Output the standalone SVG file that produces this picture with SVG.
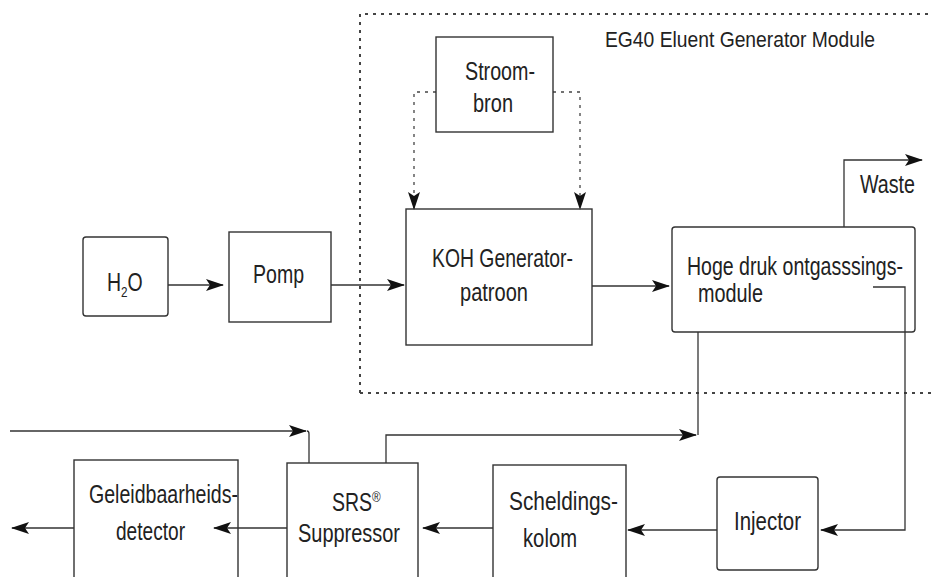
<svg xmlns="http://www.w3.org/2000/svg" width="932" height="577" viewBox="0 0 932 577">
<style>
.bx{fill:none;stroke:#333;stroke-width:1.4}
.t{font-family:"Liberation Sans Narrow","Liberation Sans",Arial,sans-serif;font-size:25px;fill:#222}
.c{fill:none;stroke:#333;stroke-width:1.3}
.d{fill:none;stroke:#444;stroke-width:1.3;stroke-dasharray:3 5}
.m{fill:none;stroke:#444;stroke-width:2;stroke-dasharray:3 5}
</style>
<defs>
<marker id="ah" markerUnits="userSpaceOnUse" markerWidth="18" markerHeight="12" refX="17" refY="6" orient="auto">
<path d="M0,0 L18,6 L0,12 L4,6 Z" fill="#111"/>
</marker>
</defs>
<rect width="932" height="577" fill="#fff"/>
<g id="module">
<path class="m" d="M360,393 V14 H932"/>
<path class="m" d="M360,393 H932"/>
<text class="t" x="605" y="47" style="font-size:22px" textLength="270" lengthAdjust="spacingAndGlyphs">EG40 Eluent Generator Module</text>
</g>
<g id="connectors">
<path class="c" d="M168,285 H223" marker-end="url(#ah)"/>
<path class="c" d="M331,285 H404" marker-end="url(#ah)"/>
<path class="d" d="M436,92 H414 V209" marker-end="url(#ah)"/>
<path class="d" d="M553,92 H580 V209" marker-end="url(#ah)"/>
<path class="c" d="M592,286 H669" marker-end="url(#ah)"/>
<path class="c" d="M844,227 V160 H922" marker-end="url(#ah)"/>
<path class="c" d="M873,287 H905 V530 H821" marker-end="url(#ah)"/>
<path class="c" d="M717,530 H628" marker-end="url(#ah)"/>
<path class="c" d="M493,528 H423" marker-end="url(#ah)"/>
<path class="c" d="M287,528 H214" marker-end="url(#ah)"/>
<path class="c" d="M74,528 H12" marker-end="url(#ah)"/>
<path class="c" d="M10,431 H306" marker-end="url(#ah)"/>
<path class="c" d="M307,431 Q309,431 309,434 V463"/>
<path class="c" d="M386,463 V435 H696" marker-end="url(#ah)"/>
<path class="c" d="M698,435 V332"/>
</g>
<g id="h2o">
<rect class="bx" x="83" y="237" width="85" height="79" rx="3"/>
<text class="t" transform="translate(107,291) scale(0.78,1)">H<tspan dy="6" style="font-size:15px">2</tspan><tspan dy="-6">O</tspan></text>
</g>
<g id="pomp">
<rect class="bx" x="229" y="232" width="102" height="90"/>
<text class="t" x="253" y="283" textLength="51" lengthAdjust="spacingAndGlyphs">Pomp</text>
</g>
<g id="stroombron">
<rect class="bx" x="436" y="37" width="117" height="95"/>
<text class="t" x="465" y="80" textLength="70" lengthAdjust="spacingAndGlyphs">Stroom-</text>
<text class="t" x="473" y="112" textLength="40" lengthAdjust="spacingAndGlyphs">bron</text>
</g>
<g id="koh">
<rect class="bx" x="406" y="209" width="186" height="136"/>
<text class="t" x="432" y="267" textLength="141" lengthAdjust="spacingAndGlyphs">KOH Generator-</text>
<text class="t" x="460" y="301" textLength="68" lengthAdjust="spacingAndGlyphs">patroon</text>
</g>
<g id="hoge">
<rect class="bx" x="672" y="227" width="243" height="105" rx="3"/>
<text class="t" x="687" y="275" textLength="216" lengthAdjust="spacingAndGlyphs">Hoge druk ontgasssings-</text>
<text class="t" x="698" y="302" textLength="65" lengthAdjust="spacingAndGlyphs">module</text>
</g>
<g id="waste">
<text class="t" x="860" y="193" textLength="55" lengthAdjust="spacingAndGlyphs">Waste</text>
</g>
<g id="injector">
<rect class="bx" x="717" y="477" width="101" height="93" rx="3"/>
<text class="t" x="734" y="530" textLength="67" lengthAdjust="spacingAndGlyphs">Injector</text>
</g>
<g id="scheldingskolom">
<rect class="bx" x="493" y="465" width="133" height="130"/>
<text class="t" x="509" y="510" textLength="109" lengthAdjust="spacingAndGlyphs">Scheldings-</text>
<text class="t" x="523" y="547" textLength="54" lengthAdjust="spacingAndGlyphs">kolom</text>
</g>
<g id="srs">
<rect class="bx" x="287" y="463" width="131" height="130"/>
<text class="t" transform="translate(332,511) scale(0.78,1)">SRS<tspan dy="-9" style="font-size:15px">®</tspan></text>
<text class="t" x="298" y="542" textLength="102" lengthAdjust="spacingAndGlyphs">Suppressor</text>
</g>
<g id="geleidbaarheidsdetector">
<rect class="bx" x="74" y="460" width="164" height="130"/>
<text class="t" x="89" y="503" textLength="149" lengthAdjust="spacingAndGlyphs">Geleidbaarheids-</text>
<text class="t" x="116" y="540" textLength="69" lengthAdjust="spacingAndGlyphs">detector</text>
</g>
</svg>
